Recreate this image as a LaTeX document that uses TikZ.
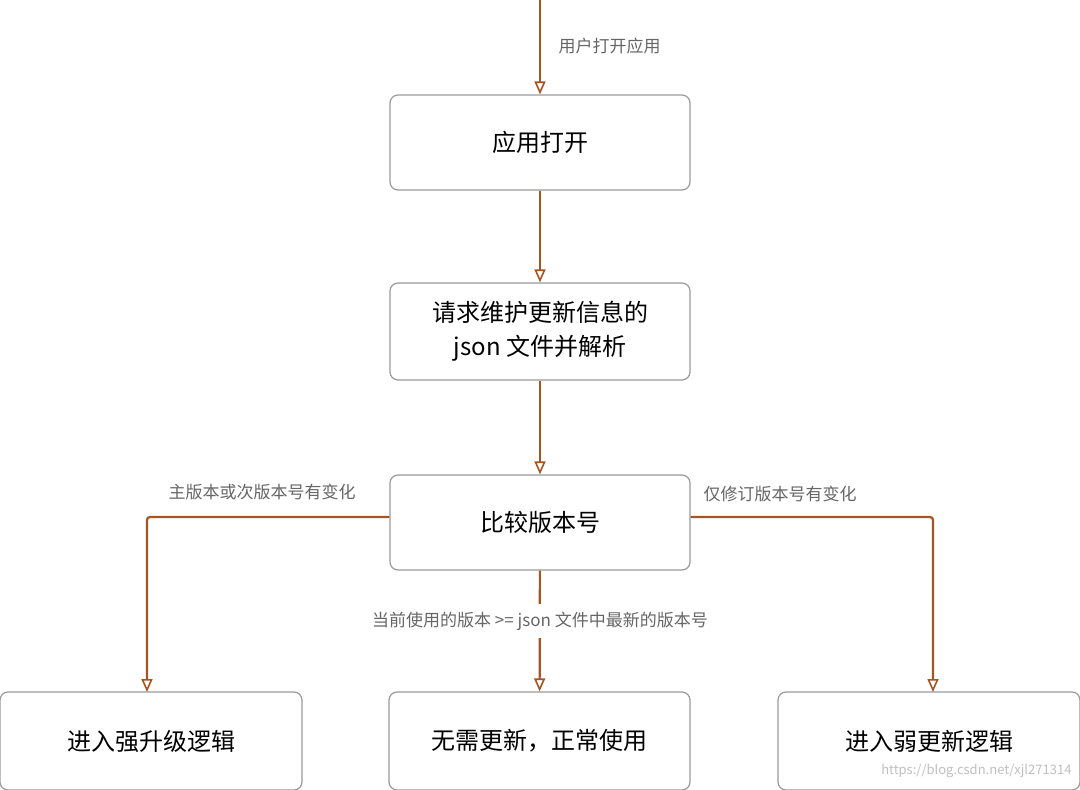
\documentclass[tikz,border=0pt]{standalone}
\usepackage{fontspec}
\setmainfont{Noto Sans CJK SC}
\usetikzlibrary{arrows.meta}
\definecolor{arr}{HTML}{A85420}
\definecolor{lbl}{HTML}{666666}
\definecolor{bd}{HTML}{9A9A9A}
\begin{document}
\begin{tikzpicture}[x=1pt,y=-1pt,
  box/.style={draw=bd,line width=1.2pt,rounded corners=8pt,align=center,font=\fontsize{24}{34}\selectfont,text=black},
  lab/.style={text=lbl,font=\fontsize{17}{20}\selectfont},
  flow/.style={draw=arr,line width=2.2pt,-{Triangle[open,length=13pt,width=11pt,line width=1.6pt]}}]
\useasboundingbox (0,0) rectangle (1080,790);
\fill[white] (0,0) rectangle (1080,790);
\node[box,minimum width=300pt,minimum height=95pt] (a) at (540,142.5) {应用打开};
\node[box,minimum width=300pt,minimum height=97pt] (b) at (540,331.5) {请求维护更新信息的\\json 文件并解析};
\node[box,minimum width=300pt,minimum height=95pt] (c) at (540,522.5) {比较版本号};
\node[box,minimum width=302pt,minimum height=98pt] (l) at (151,741) {进入强升级逻辑};
\node[box,minimum width=301pt,minimum height=98pt] (m) at (539.5,741) {无需更新，正常使用};
\node[box,minimum width=302pt,minimum height=98pt] (r) at (929,741) {进入弱更新逻辑};
\coordinate (top) at (540,0);
\draw[flow] (top) -- (a);
\node[lab,anchor=west] (t1) at (555,46) {用户打开应用};
\draw[flow] (a) -- (b);
\draw[flow] (b) -- (c);
\draw[flow,rounded corners=3pt] (c.west |- 540,517) -- (147,517) -- (147,692);
\draw[flow,rounded corners=3pt] (c.east |- 540,517) -- (933,517) -- (933,692);
\draw[flow] (c) -- (m);
\node[lab] (t2) at (262,492) {主版本或次版本号有变化};
\node[lab,anchor=west] (t3) at (700,494) {仅修订版本号有变化};
\node[lab,fill=white,inner ysep=8pt] (t4) at (540,621) {当前使用的版本 >= json 文件中最新的版本号};
\node[text=black!25,font=\fontsize{13}{15}\selectfont,anchor=east] (w) at (1075,771) {https://blog.csdn.net/xjl271314};
\end{tikzpicture}
\end{document}
